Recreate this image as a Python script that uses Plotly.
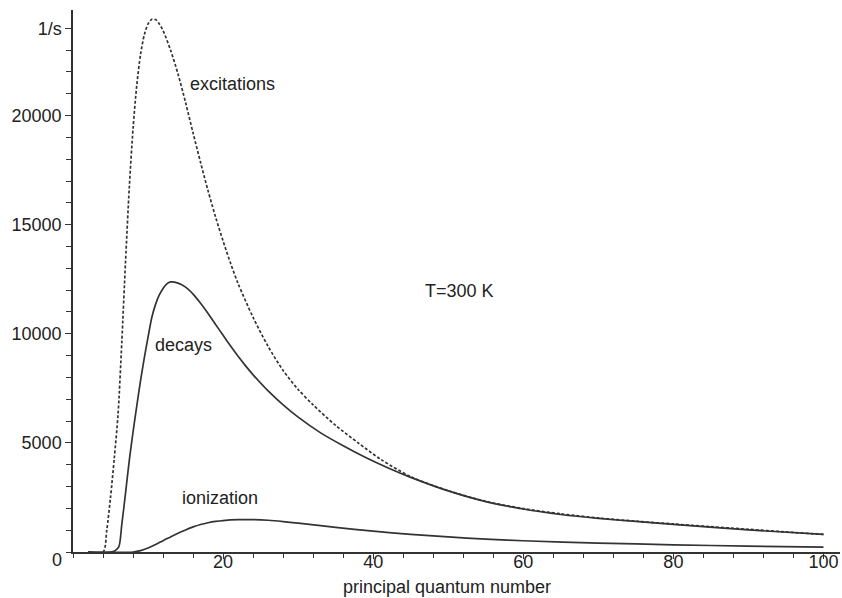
import plotly.graph_objects as go

# principal quantum number grid (per series) and rates in 1/s
n_exc = [2, 4, 4.5, 5, 5.5, 6, 6.5, 7, 7.5, 8, 8.5, 9, 9.5, 10, 10.5, 11, 11.5, 12, 13, 14,
         15, 16, 17, 18, 19, 20, 21, 22, 24, 26, 28, 30, 32, 35, 38, 41, 45, 50, 55, 60,
         65, 70, 75, 80, 85, 90, 95, 100]
excitations = [0, 0, 1000, 2500, 4300, 6300, 9600, 13300, 16700, 19400, 21400, 22800, 23700,
               24200, 24420, 24400, 24200, 23900, 23000, 21900, 20600, 19200, 17850, 16550,
               15350, 14250, 13230, 12300, 10750, 9420, 8320, 7450, 6740, 5800, 5000, 4250,
               3450, 2810, 2320, 1990, 1750, 1560, 1410, 1285, 1160, 1040, 920, 805]

n_dec = [2, 5, 5.6, 6.1, 6.5, 7, 7.5, 8, 8.5, 9, 9.5, 10, 10.5, 11, 11.5, 12, 12.5, 13, 14, 15,
         16, 17, 18, 19, 20, 21, 22, 23, 24, 26, 28, 30, 33, 36, 39, 42, 45, 50, 55, 60, 65,
         70, 75, 80, 90, 100]
decays = [0, 0, 60, 230, 1250, 2700, 4200, 5500, 6700, 7850, 8900, 9850, 10750, 11350, 11780,
          12080, 12290, 12380, 12320, 12140, 11820, 11400, 10930, 10430, 9930, 9440, 8970, 8530,
          8120, 7380, 6740, 6180, 5460, 4870, 4330, 3850, 3420, 2800, 2310, 1970, 1720, 1540,
          1400, 1265, 1010, 810]

n_ion = [2, 8, 9, 10, 11, 12, 13, 14, 15, 16, 17, 18, 19, 20, 22, 24, 26, 28, 30, 35, 40, 45,
         50, 55, 60, 70, 80, 90, 100]
ionization = [0, 0, 60, 180, 340, 520, 690, 860, 1010, 1150, 1260, 1340, 1400, 1440, 1480, 1485,
              1455, 1395, 1320, 1130, 955, 810, 690, 590, 515, 410, 330, 270, 222]

x_ticks = [20, 40, 60, 80, 100]
y_ticks = [5000, 10000, 15000, 20000, 24000]
y_ticktext = ["5000", "10000", "15000", "20000", "1/s"]

labels = [
    ("excitations", 21.2, 21450),
    ("decays", 14.7, 9500),
    ("ionization", 19.6, 2490),
    ("T=300 K", 51.5, 11950),
]

FONT = "Liberation Sans, Arial, Helvetica, sans-serif"
INK = "#222222"
LINE = "#333333"

fig = go.Figure()
fig.add_trace(go.Scatter(x=n_exc, y=excitations, mode="lines",
                         line=dict(color=LINE, width=1.7, dash="3px,2px", shape="spline", smoothing=0.8)))
fig.add_trace(go.Scatter(x=n_dec, y=decays, mode="lines",
                         line=dict(color=LINE, width=1.7, shape="spline", smoothing=0.8)))
fig.add_trace(go.Scatter(x=n_ion, y=ionization, mode="lines",
                         line=dict(color=LINE, width=1.7, shape="spline", smoothing=0.8)))

for text, x, y in labels:
    fig.add_annotation(x=x, y=y, text=text, showarrow=False,
                       font=dict(family=FONT, size=18, color=INK))

fig.add_annotation(x=0, y=0, text="0", showarrow=False, xanchor="right", yanchor="middle",
                   xshift=-9, yshift=-8, font=dict(family=FONT, size=18, color=INK))

fig.add_annotation(xref="paper", yref="paper", x=0.4876, y=-0.0637, text="principal quantum number",
                   showarrow=False, xanchor="center", yanchor="middle",
                   font=dict(family=FONT, size=18, color=INK))

fig.update_layout(
    width=842, height=598,
    margin=dict(l=73, r=2, t=10, b=46),
    paper_bgcolor="white", plot_bgcolor="white",
    showlegend=False,
    font=dict(family=FONT, size=18, color=INK),
)
fig.update_xaxes(
    range=[0, 102.2], showgrid=False, zeroline=False, automargin=False,
    showline=True, linecolor=LINE, linewidth=1.5,
    tickvals=x_ticks, ticks="outside", ticklen=5, tickcolor=LINE, tickwidth=1,
    ticklabelstandoff=-12,
    tickfont=dict(family=FONT, size=18, color=INK),
    minor=dict(dtick=4, tick0=0, ticks="outside", ticklen=4, tickcolor=LINE, tickwidth=1, showgrid=False),
)
fig.update_yaxes(
    range=[0, 24840], showgrid=False, zeroline=False, automargin=False,
    showline=True, linecolor=LINE, linewidth=1.5,
    tickvals=y_ticks, ticktext=y_ticktext, ticks="outside", ticklen=6, tickcolor=LINE, tickwidth=1,
    tickfont=dict(family=FONT, size=18, color=INK),
    minor=dict(dtick=1000, tick0=0, ticks="outside", ticklen=5, tickcolor=LINE, tickwidth=1, showgrid=False),
)

fig.write_html("out.html")
